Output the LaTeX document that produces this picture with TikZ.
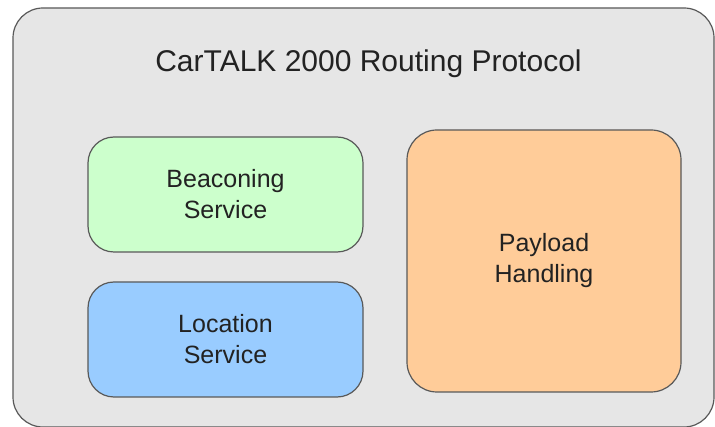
\documentclass[tikz,border=0pt]{standalone}
\usepackage{fontspec}
\setmainfont{Liberation Sans}
\usepackage{tikz}
\usetikzlibrary{positioning,calc}
\definecolor{framefill}{HTML}{E6E6E6}
\definecolor{edgegray}{HTML}{595959}
\definecolor{textgray}{HTML}{222222}
\definecolor{beaconfill}{HTML}{CCFFCC}
\definecolor{locfill}{HTML}{99CCFF}
\definecolor{payfill}{HTML}{FFCC99}
\tikzset{
  service/.style={draw=edgegray,line width=1.2pt,rounded corners=26pt,
    minimum width=275pt,minimum height=115pt,align=center,
    text=textgray,font=\fontsize{25}{31}\selectfont,inner sep=0pt},
}

\begin{document}
\begin{tikzpicture}[x=1pt,y=-1pt]
\useasboundingbox (0,0) rectangle (715,427);
\clip (0,0) rectangle (715,427);
\node[draw=edgegray,fill=framefill,line width=1.2pt,rounded corners=30pt,
  minimum width=701pt,minimum height=419pt,inner sep=0pt] (frame) at (363.5,217.5) {};
\node[anchor=base,text=textgray,font=\fontsize{30}{36}\selectfont] (title) at (368.5,72) {CarTALK 2000 Routing Protocol};
\node[service,fill=beaconfill] (beacon) at (225.5,194.5) {Beaconing\\Service};
\node[service,fill=locfill] (location) at (225.5,339.5) {Location\\Service};
\node[service,fill=payfill,minimum width=274pt,minimum height=262pt,rounded corners=30pt] (payload) at (544,261) {Payload\\Handling};
\end{tikzpicture}
\end{document}
